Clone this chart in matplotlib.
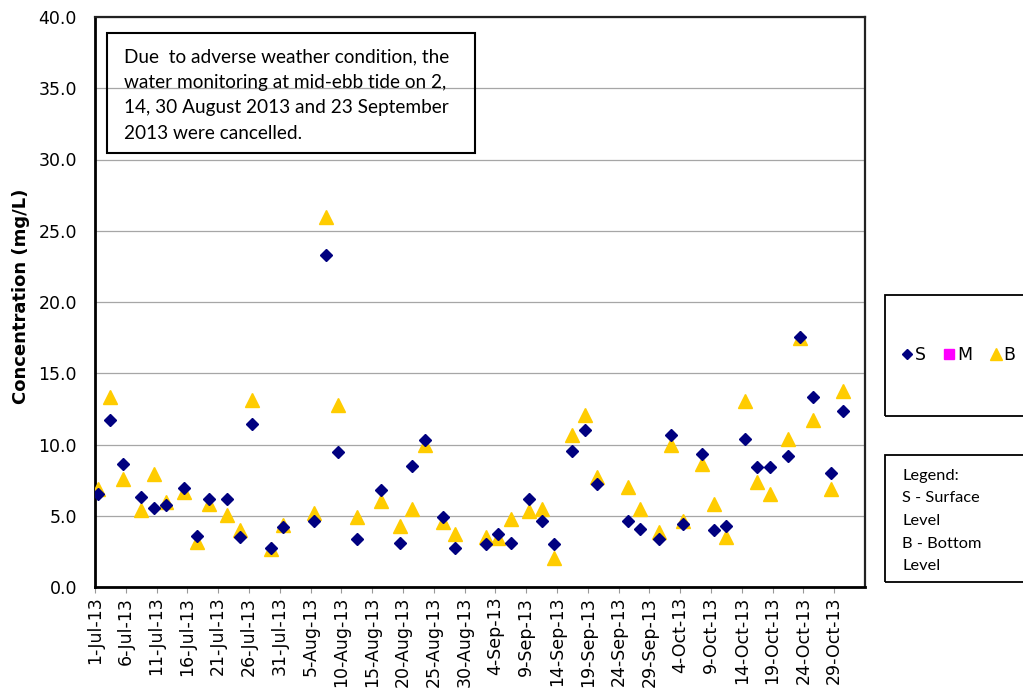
import datetime as dt
import matplotlib
matplotlib.use('Agg')
import matplotlib.pyplot as plt
from matplotlib.lines import Line2D
from matplotlib.patches import Rectangle

# sampling dates (mid-ebb tide), Jul - Oct 2013
dates = ['2013-07-01', '2013-07-03', '2013-07-05', '2013-07-08', '2013-07-10', '2013-07-12',
         '2013-07-15', '2013-07-17', '2013-07-19', '2013-07-22', '2013-07-24', '2013-07-26',
         '2013-07-29', '2013-07-31', '2013-08-05', '2013-08-07', '2013-08-09', '2013-08-12',
         '2013-08-16', '2013-08-19', '2013-08-21', '2013-08-23', '2013-08-26', '2013-08-28',
         '2013-09-02', '2013-09-04', '2013-09-06', '2013-09-09', '2013-09-11', '2013-09-13',
         '2013-09-16', '2013-09-18', '2013-09-20', '2013-09-25', '2013-09-27', '2013-09-30',
         '2013-10-02', '2013-10-04', '2013-10-07', '2013-10-09', '2013-10-11', '2013-10-14',
         '2013-10-16', '2013-10-18', '2013-10-21', '2013-10-23', '2013-10-25', '2013-10-28',
         '2013-10-30']

surface = [6.55, 11.75, 8.6, 6.3, 5.55, 5.75, 6.95, 3.55, 6.15, 6.15, 3.5, 11.45,
           2.75, 4.2, 4.65, 23.3, 9.5, 3.35, 6.8, 3.1, 8.5, 10.3, 4.9, 2.75,
           3.0, 3.7, 3.1, 6.15, 4.6, 3.05, 9.55, 11.05, 7.2, 4.65, 4.1, 3.4,
           10.65, 4.4, 9.3, 4.0, 4.25, 10.4, 8.45, 8.45, 9.2, 17.55, 13.3, 8.0,
           12.35]

bottom = [6.9, 13.35, 7.6, 5.4, 7.9, 5.95, 6.7, 3.15, 5.8, 5.05, 4.0, 13.1,
          2.7, 4.35, 5.2, 26.0, 12.75, 4.9, 6.05, 4.25, 5.5, 10.0, 4.55, 3.7,
          3.5, 3.45, 4.8, 5.35, 5.5, 2.05, 10.65, 12.05, 7.75, 7.0, 5.5, 3.85,
          10.0, 4.65, 8.6, 5.85, 3.5, 13.05, 7.4, 6.5, 10.4, 17.45, 11.7, 6.9,
          13.75]

note = ("Due  to adverse weather condition, the\n"
        "water monitoring at mid-ebb tide on 2,\n"
        "14, 30 August 2013 and 23 September\n"
        "2013 were cancelled.")

W, H = 1023, 696
fig = plt.figure(figsize=(W / 100, H / 100), dpi=100)
ax = fig.add_axes([95 / W, 1 - 587 / H, 770 / W, 570 / H])

# Excel date axis puts each point in the middle of its day
x = [dt.datetime.strptime(d, '%Y-%m-%d') + dt.timedelta(hours=12) for d in dates]

ax.plot(x, bottom, ls='none', marker='^', ms=9.5, color='#FFCC00', zorder=3)
ax.plot(x, surface, ls='none', marker='D', ms=6.2, color='#000080', zorder=4)

start = dt.datetime(2013, 7, 1)
end = dt.datetime(2013, 11, 3)
ax.set_xlim(start, end)
ax.set_ylim(0, 40)

ticks = [start + dt.timedelta(days=5 * i) for i in range(25)]
ax.set_xticks(ticks)
ax.set_xticklabels(['%d-%s' % (t.day, t.strftime('%b-%y')) if t < end else '' for t in ticks],
                   rotation=90, fontsize=12.5)
ax.set_yticks(range(0, 41, 5))
ax.set_yticklabels(['%.1f' % v for v in range(0, 41, 5)], fontsize=12.5)
ax.tick_params(axis='x', length=4, color='#999999', pad=3)
ax.tick_params(axis='y', length=0, pad=13)

ax.grid(axis='y', color='#a6a6a6', lw=0.9)
ax.set_axisbelow(True)
for side in ['left', 'bottom']:
    ax.spines[side].set_linewidth(2)
    ax.spines[side].set_color('black')
for side in ['top', 'right']:
    ax.spines[side].set_linewidth(1.6)
    ax.spines[side].set_color('#222222')

fig.text(21 / W, 1 - 296 / H, 'Concentration (mg/L)', rotation=90, ha='center', va='center',
         fontsize=13, fontweight='bold')

# note box inside plot area
fig.patches.append(Rectangle((107 / W, 1 - 153 / H), 368 / W, 120 / H, transform=fig.transFigure,
                             fill=False, ec='black', lw=1.5))
fig.text(124 / W, 1 - 95 / H, note, ha='left', va='center', fontsize=13.7,
         family='Lato', linespacing=1.62)

# legend box
fig.patches.append(Rectangle((885 / W, 1 - 416 / H), 160 / W, 121 / H, transform=fig.transFigure,
                             fill=False, ec='black', lw=1.3, clip_on=False))
handles = [Line2D([], [], ls='none', marker='D', ms=5.5, color='#000080'),
           Line2D([], [], ls='none', marker='s', ms=7, color='#FF00FF'),
           Line2D([], [], ls='none', marker='^', ms=8, color='#FFCC00')]
fig.legend(handles, ['S', 'M', 'B'], ncol=3, frameon=False, loc='center left',
           bbox_to_anchor=(902 / W, 1 - 355 / H), fontsize=12.5, handlelength=0.6,
           handletextpad=0.15, columnspacing=1.05, borderpad=0, borderaxespad=0)

# text legend box
fig.patches.append(Rectangle((885 / W, 1 - 582 / H), 160 / W, 127 / H, transform=fig.transFigure,
                             fill=False, ec='black', lw=1.3, clip_on=False))
fig.text(902 / W, 1 - 521 / H, 'Legend:\nS - Surface\nLevel\nB - Bottom\nLevel',
         ha='left', va='center', fontsize=11.8, family='Lato', linespacing=1.78)

fig.savefig('out.png', dpi=100)
